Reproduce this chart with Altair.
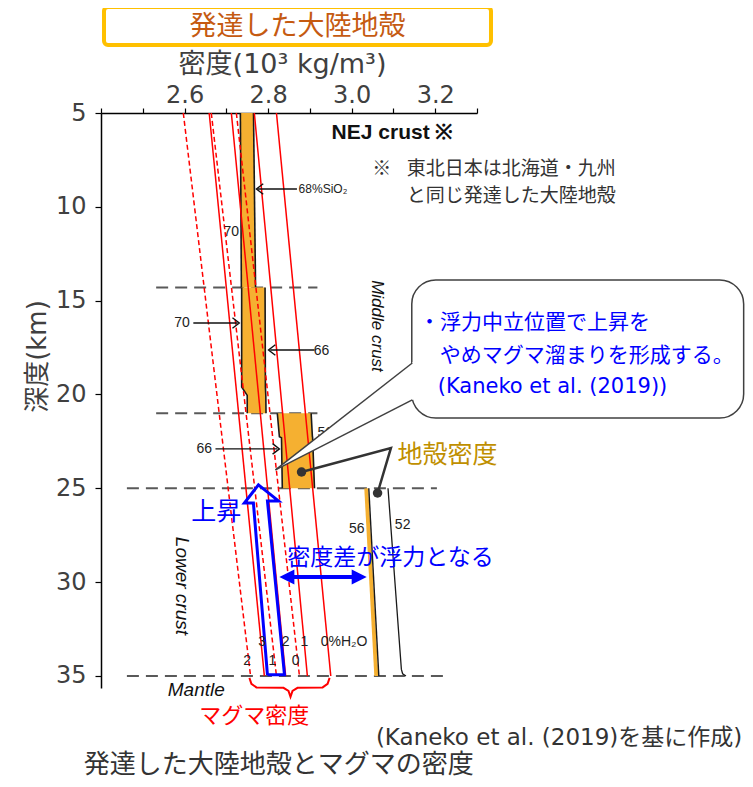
import altair as alt
import pandas as pd

# ---------------- axes ----------------
X_DOMAIN = [2.4, 3.3]
Y_DOMAIN = [5.0, 35.64]
X_TICKS = [2.4, 2.5, 2.6, 2.7, 2.8, 2.9, 3.0, 3.1, 3.2, 3.3]
Y_TICKS = [5, 10, 15, 20, 25, 30, 35]
X_TITLE = "密度(10³ kg/m³)"
Y_TITLE = "深度(km)"
MAIN_TITLE = "発達した大陸地殻"

# ---------------- data ----------------
bound_depth = [14.3, 21.0, 25.0, 35.0]
bound_x1 = [2.532, 2.532, 2.462, 2.462]
bound_x2 = [2.918, 2.918, 3.204, 3.228]

# NEJ crust density profile (three blocks)
seg_a_depth = [5.0, 14.3]
seg_a_left = [2.7336, 2.7360]
seg_a_right = [2.7650, 2.7700]
seg_b_depth = [14.3, 19.6, 20.05, 21.0]
seg_b_left = [2.7367, 2.7367, 2.7500, 2.7500]
seg_b_right = [2.7927, 2.7935, 2.7945, 2.7950]
seg_c_depth = [21.0, 22.25, 22.3, 25.0]
seg_c_left = [2.8220, 2.8270, 2.8320, 2.8340]
seg_c_right = [2.9030, 2.9060, 2.9065, 2.9110]

# lower crust (56 % and 52 % SiO2)
lc_depth = [25.0, 35.0]
lc56_band = [3.035, 3.059]
lc56_line = [3.041, 3.065]
lc52_depth = [25.0, 34.65, 34.88, 35.0]
lc52_rho = [3.087, 3.119, 3.122, 3.130]

# magma density lines (solid / dashed, by H2O content)
magma_id = ["s0", "s1", "s2", "s3", "d0", "d1", "d2"]
magma_top = [2.820, 2.767, 2.712, 2.659, 2.724, 2.664, 2.597]
magma_bottom = [2.950, 2.894, 2.842, 2.791, 2.875, 2.820, 2.758]
magma_dashed = [False, False, False, False, True, True, True]
magma_depth = [5.0, 35.0]

# hollow rising arrow outline
rise_x = [2.7984, 2.7648, 2.7432, 2.7768, 2.8248, 2.7984, 2.8392, 2.7984]
rise_y = [34.94, 25.78, 25.78, 24.82, 25.67, 25.67, 34.94, 34.94]

# buoyancy double arrow
buoy_depth = 29.72
buoy_x = [2.849, 3.014]
buoy_tip_left = 2.827
buoy_tip_right = 3.036

# red brace under magma lines
brace_x = [2.7552, 2.760, 2.772, 2.8368, 2.8488, 2.8536, 2.8584, 2.8704, 2.9304, 2.9424, 2.9472]
brace_y = [35.10, 35.42, 35.61, 35.63, 35.79, 36.11, 35.79, 35.63, 35.61, 35.42, 35.10]

# crust-density leader
leader_x = [2.880, 3.094, 3.062]
leader_y = [24.13, 22.85, 25.25]
dot_x = [2.880, 3.062]
dot_y = [24.13, 25.25]

# callout bubble
bubble_x = [3.1439, 3.9383]
bubble_y = [13.90, 21.25]
wedge_x = [2.8176, 3.1512]
wedge_top = [24.02, 18.19]
wedge_bot = [24.02, 20.23]
wedge_line1_x = [2.8176, 3.1451]
wedge_line1_y = [24.02, 18.32]
wedge_line2_x = [2.8176, 3.1451]
wedge_line2_y = [24.02, 20.29]
bubble_lines = ["・浮力中立位置で上昇を", "やめマグマ溜まりを形成する。", "(Kaneko et al. (2019))"]
bubble_lx = [3.161, 3.211, 3.206]
bubble_ly = [16.19, 17.95, 19.60]

# small black annotation arrows
arr_y = [9.05, 16.19, 17.63, 22.90]
arr_x1 = [2.869, 2.621, 2.911, 2.674]
arr_x2 = [2.775, 2.727, 2.805, 2.822]
arr_tip = [2.772, 2.731, 2.801, 2.827]
arr_dir = ["L", "R", "L", "R"]

# title box
title_box_x = [2.4072, 3.3335]
title_box_y = [-0.647, 1.377]

# ---------------- helpers ----------------
JP = "Noto Sans CJK JP"
MIX = "DejaVu Sans, Noto Sans CJK JP"
EN = "Liberation Sans"
BLUE = "#0000FF"
RED = "#FF0000"
ORANGE = "#F5B031"

xs = alt.Scale(domain=X_DOMAIN, nice=False, zero=False)
ys = alt.Scale(domain=Y_DOMAIN, nice=False, zero=False, reverse=True)

label_expr = ("(datum.value > 2.55 && datum.value < 3.25 && "
              "abs(datum.value*10 - 2*round(datum.value*5)) < 0.01) ? format(datum.value, '.1f') : ''")
AX = alt.Axis(
    orient="top", values=X_TICKS, labelExpr=label_expr, title=X_TITLE,
    titleFont=MIX, titleFontSize=27, titleFontWeight="normal", titleColor="#404040",
    titleX=181, titleY=-49, titleBaseline="middle", titleAlign="center",
    labelFont="DejaVu Sans", labelFontSize=24, labelColor="#404040", labelPadding=1,
    labelOverlap=False, labelFlush=False, tickSize=5, tickColor="black", tickWidth=1.2,
    domainColor="black", domainWidth=1.5, grid=False)
AY = alt.Axis(
    orient="left", values=Y_TICKS, format="d", title=Y_TITLE,
    titleFont=MIX, titleFontSize=26, titleFontWeight="normal", titleColor="#404040",
    titleAngle=270, titleX=-64, titleY=243, titleBaseline="middle", titleAlign="center",
    labelFont="DejaVu Sans", labelFontSize=24, labelColor="#404040", labelPadding=9,
    labelOverlap=False, tickSize=6, tickColor="black", tickWidth=1.2,
    domainColor="black", domainWidth=1.5, grid=False)


def ex(f):
    return alt.X(f, type="quantitative", scale=xs, axis=AX)


def ey(f):
    return alt.Y(f, type="quantitative", scale=ys, axis=AY)


def labels(xv, yv, tv, **kw):
    d = pd.DataFrame({"x": xv, "y": yv, "t": tv})
    return alt.Chart(d).mark_text(**kw).encode(x=ex("x"), y=ey("y"), text="t:N")


def path(xv, yv, **kw):
    d = pd.DataFrame({"x": xv, "y": yv, "o": list(range(len(xv)))})
    return alt.Chart(d).mark_line(**kw).encode(x=ex("x"), y=ey("y"), order=alt.Order("o:Q"))


def block(depth, left, right):
    d = pd.DataFrame({"d": depth, "l": left, "r": right, "o": list(range(len(depth)))})
    fill = alt.Chart(d).mark_area(orient="horizontal", color=ORANGE, opacity=1).encode(
        y=ey("d"), x=ex("l"), x2="r:Q")
    le = alt.Chart(d).mark_line(color="#1a1a1a", strokeWidth=1.6).encode(
        y=ey("d"), x=ex("l"), order=alt.Order("o:Q"))
    re = alt.Chart(d).mark_line(color="#1a1a1a", strokeWidth=1.6).encode(
        y=ey("d"), x=ex("r"), order=alt.Order("o:Q"))
    return [fill, le, re]


# ---------------- layers ----------------
bounds_df = pd.DataFrame({"d": bound_depth, "x1": bound_x1, "x2": bound_x2})
bounds = alt.Chart(bounds_df).mark_rule(color="#595959", strokeWidth=2, strokeDash=[12, 7]).encode(
    x=ex("x1"), x2="x2:Q", y=ey("d"))

crust_layers = (block(seg_a_depth, seg_a_left, seg_a_right)
                + block(seg_b_depth, seg_b_left, seg_b_right)
                + block(seg_c_depth, seg_c_left, seg_c_right))

lc56_b = path(lc56_band, lc_depth, color=ORANGE, strokeWidth=4)
lc56_l = path(lc56_line, lc_depth, color="#1a1a1a", strokeWidth=1.4)
lc52 = path(lc52_rho, lc52_depth, color="#1a1a1a", strokeWidth=1.3)

mrows = []
for i, m in enumerate(magma_id):
    mrows.append({"id": m, "d": magma_depth[0], "rho": magma_top[i], "dash": magma_dashed[i]})
    mrows.append({"id": m, "d": magma_depth[1], "rho": magma_bottom[i], "dash": magma_dashed[i]})
magma_df = pd.DataFrame(mrows)
magma_solid = alt.Chart(magma_df[~magma_df["dash"]]).mark_line(color=RED, strokeWidth=1.5).encode(
    x=ex("rho"), y=ey("d"), detail="id:N")
magma_dash = alt.Chart(magma_df[magma_df["dash"]]).mark_line(
    color=RED, strokeWidth=1.5, strokeDash=[5, 3]).encode(x=ex("rho"), y=ey("d"), detail="id:N")

rise = path(rise_x, rise_y, color=BLUE, strokeWidth=3, strokeJoin="miter")

buoy_rule = alt.Chart(pd.DataFrame({"x1": [buoy_x[0]], "x2": [buoy_x[1]], "y": [buoy_depth]})).mark_rule(
    color=BLUE, strokeWidth=4).encode(x=ex("x1"), x2="x2:Q", y=ey("y"))
buoy_l = alt.Chart(pd.DataFrame({"x": [buoy_tip_left], "y": [buoy_depth]})).mark_point(
    shape="M0,0L2,-1L2,1Z", filled=True, size=225, color=BLUE, opacity=1).encode(x=ex("x"), y=ey("y"))
buoy_r = alt.Chart(pd.DataFrame({"x": [buoy_tip_right], "y": [buoy_depth]})).mark_point(
    shape="M0,0L-2,-1L-2,1Z", filled=True, size=225, color=BLUE, opacity=1).encode(x=ex("x"), y=ey("y"))

brace = path(brace_x, brace_y, color=RED, strokeWidth=2)

arr_df = pd.DataFrame({"y": arr_y, "x1": arr_x1, "x2": arr_x2, "tip": arr_tip, "dir": arr_dir})
arr_rules = alt.Chart(arr_df).mark_rule(color="#111", strokeWidth=1.4).encode(
    x=ex("x1"), x2="x2:Q", y=ey("y"))
arr_left = alt.Chart(arr_df[arr_df["dir"] == "L"]).mark_point(
    shape="M1.3,-1L0,0L1.3,1", filled=False, size=110, color="#111", strokeWidth=1.4, opacity=1).encode(
    x=ex("tip"), y=ey("y"))
arr_right = alt.Chart(arr_df[arr_df["dir"] == "R"]).mark_point(
    shape="M-1.3,-1L0,0L-1.3,1", filled=False, size=110, color="#111", strokeWidth=1.4, opacity=1).encode(
    x=ex("tip"), y=ey("y"))

hidden_56 = labels([2.937], [22.05], ["56"], font=EN, fontSize=14, color="#222", align="center", baseline="middle")

bubble = alt.Chart(pd.DataFrame({"x1": [bubble_x[0]], "x2": [bubble_x[1]], "y1": [bubble_y[0]],
                                 "y2": [bubble_y[1]]})).mark_rect(
    fill="white", stroke="#404040", strokeWidth=1.5, cornerRadius=24).encode(
    x=ex("x1"), x2="x2:Q", y=ey("y1"), y2="y2:Q")
wedge = alt.Chart(pd.DataFrame({"x": wedge_x, "a": wedge_top, "b": wedge_bot})).mark_area(
    orient="vertical", color="white", opacity=1).encode(x=ex("x"), y=ey("a"), y2="b:Q")
wedge_l1 = path(wedge_line1_x, wedge_line1_y, color="#404040", strokeWidth=1.5)
wedge_l2 = path(wedge_line2_x, wedge_line2_y, color="#404040", strokeWidth=1.5)

leader = path(leader_x, leader_y, color="#333333", strokeWidth=2.5)
dots = alt.Chart(pd.DataFrame({"x": dot_x, "y": dot_y})).mark_point(
    filled=True, size=90, color="#333333", opacity=1).encode(x=ex("x"), y=ey("y"))

title_box = alt.Chart(pd.DataFrame({"x1": [title_box_x[0]], "x2": [title_box_x[1]],
                                    "y1": [title_box_y[0]], "y2": [title_box_y[1]]})).mark_rect(
    fill="white", fillOpacity=0, stroke="#FFC000", strokeWidth=4, cornerRadius=4).encode(
    x=ex("x1"), x2="x2:Q", y=ey("y1"), y2="y2:Q")

texts = [
    labels([2.8704], [0.42], [MAIN_TITLE], font=JP, fontSize=27, color="#C55A11", align="center", baseline="middle"),
    labels([2.952], [6.066], ["NEJ crust ※"], font=EN, fontSize=21, fontWeight="bold", color="#111", align="left", baseline="middle"),
    labels([3.072], [7.98], ["※"], font=JP, fontSize=19, color="#333", align="center", baseline="middle"),
    labels([3.132, 3.132], [7.98, 9.40], ["東北日本は北海道・九州", "と同じ発達した大陸地殻"], font=JP, fontSize=19, color="#333", align="left", baseline="middle"),
    labels([2.873], [9.05], ["68%SiO₂"], font=EN, fontSize=12, color="#222", align="left", baseline="middle"),
    labels([2.712, 2.594, 2.928, 2.647], [11.34, 16.19, 17.68, 22.90], ["70", "70", "66", "66"],
           font=EN, fontSize=14, color="#222", align="center", baseline="middle"),
    labels([3.012, 3.122], [27.15, 26.95], ["56", "52"], font=EN, fontSize=14, color="#222", align="center", baseline="middle"),
    labels([2.786, 2.842, 2.887, 2.750, 2.810, 2.866], [33.18, 33.18, 33.18, 34.2, 34.2, 34.2], ["3", "2", "1", "2", "1", "0"],
           font=EN, fontSize=14, color="#222", align="center", baseline="middle"),
    labels([2.926], [33.18], ["0%H₂O"], font=EN, fontSize=14, color="#222", align="left", baseline="middle"),
    labels([3.060], [16.35], ["Middle crust"], font=EN, fontSize=17, fontStyle="italic", color="#111", angle=90, align="center", baseline="middle"),
    labels([2.594], [30.2], ["Lower crust"], font=EN, fontSize=19, fontStyle="italic", color="#111", angle=90, align="center", baseline="middle"),
    labels([2.628], [35.74], ["Mantle"], font=EN, fontSize=19, fontStyle="italic", color="#111", align="center", baseline="middle"),
    labels([2.676], [26.26], ["上昇"], font=JP, fontSize=25, color=BLUE, align="center", baseline="middle"),
    labels([2.846], [28.70], ["密度差が浮力となる"], font=JP, fontSize=23, color=BLUE, align="left", baseline="middle"),
    labels([3.110], [23.22], ["地殻密度"], font=JP, fontSize=25, color="#BF8F00", align="left", baseline="middle"),
    labels([2.767], [37.13], ["マグマ密度"], font=JP, fontSize=22, color=RED, align="center", baseline="middle"),
    labels(bubble_lx, bubble_ly, bubble_lines, font=MIX, fontSize=21, color=BLUE, align="left", baseline="middle"),
    labels([3.935], [38.30], ["(Kaneko et al. (2019)を基に作成)"], font=MIX, fontSize=23, color="#333", align="right", baseline="middle"),
    labels([2.359], [39.72], ["発達した大陸地殻とマグマの密度"], font=JP, fontSize=26, color="#333", align="left", baseline="middle"),
]

chart = alt.layer(
    bounds,
    *crust_layers,
    lc56_b, lc56_l, lc52,
    magma_solid, magma_dash,
    rise, buoy_rule, buoy_l, buoy_r, brace,
    arr_rules, arr_left, arr_right,
    hidden_56,
    bubble, wedge, wedge_l1, wedge_l2,
    *texts,
    leader, dots, title_box,
).properties(
    width=376, height=575,
    padding={"left": 93, "top": 105, "right": 268, "bottom": 91},
    autosize=alt.AutoSizeParams(type="none"),
).configure_view(stroke=None)

chart.save("out.html", embed_options={"renderer": "svg", "actions": False})
